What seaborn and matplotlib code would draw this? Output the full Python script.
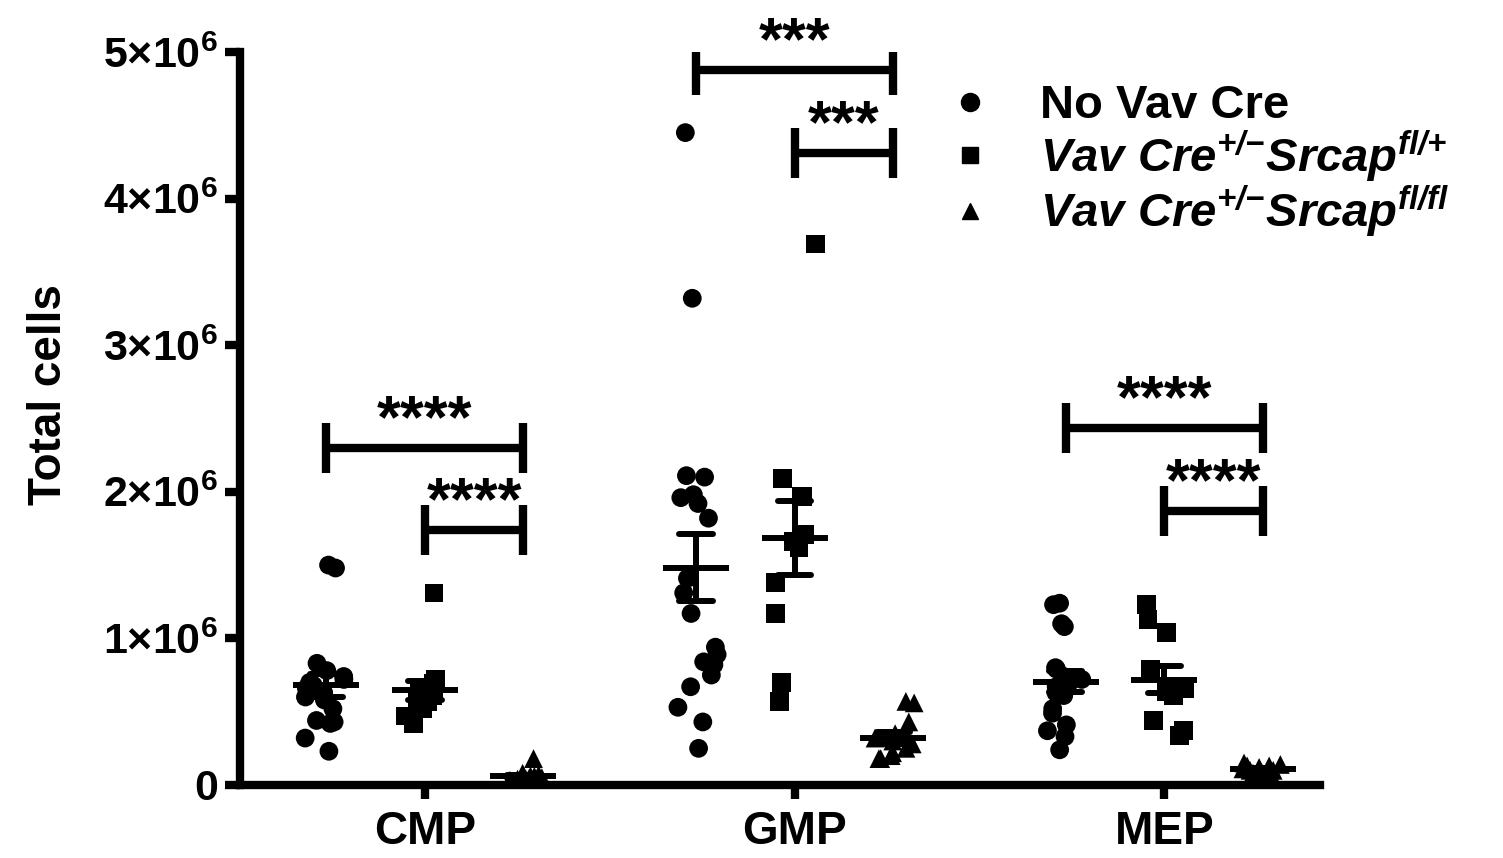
import numpy as np
import pandas as pd
import matplotlib
matplotlib.use("Agg")
import matplotlib.pyplot as plt
from matplotlib.lines import Line2D
import seaborn as sns

# ---------------- data ----------------
categories = ["CMP", "GMP", "MEP"]
groups = ["No Vav Cre",
          "Vav Cre$^{+/{-}}$Srcap$^{fl/{+}}$",
          "Vav Cre$^{+/{-}}$Srcap$^{fl/fl}$"]
group_markers = ["o", "s", "^"]

# values in units of 1e6 cells
cmp_novav = [1.50, 1.48, 0.83, 0.78, 0.74, 0.72, 0.70, 0.68, 0.66, 0.63,
             0.60, 0.58, 0.52, 0.44, 0.43, 0.42, 0.32, 0.23]
cmp_het = [1.31, 0.72, 0.69, 0.66, 0.63, 0.61, 0.59, 0.57, 0.55, 0.52, 0.47, 0.42]
cmp_hom = [0.18, 0.08, 0.07, 0.06, 0.06, 0.05, 0.05, 0.04, 0.04, 0.03, 0.03, 0.02]

gmp_novav = [4.45, 3.32, 2.11, 2.10, 1.98, 1.96, 1.92, 1.82, 1.41, 1.31,
             1.17, 0.94, 0.89, 0.84, 0.82, 0.75, 0.67, 0.53, 0.43, 0.25]
gmp_het = [3.69, 2.09, 1.97, 1.97, 1.71, 1.66, 1.62, 1.38, 1.17, 0.70, 0.57]
gmp_hom = [0.57, 0.56, 0.43, 0.35, 0.32, 0.30, 0.28, 0.25, 0.22, 0.20, 0.18, 0.18]

mep_novav = [1.24, 1.23, 1.10, 1.08, 0.80, 0.79, 0.74, 0.72, 0.70, 0.67,
             0.63, 0.61, 0.52, 0.49, 0.41, 0.37, 0.33, 0.24]
mep_het = [1.23, 1.13, 1.04, 0.79, 0.66, 0.66, 0.64, 0.61, 0.44, 0.37, 0.34]
mep_hom = [0.15, 0.14, 0.13, 0.13, 0.12, 0.11, 0.10, 0.10, 0.09, 0.08, 0.08, 0.07]

ytick_values = [0, 1e6, 2e6, 3e6, 4e6, 5e6]
ytick_labels = ["0", "1×10$^{6}$", "2×10$^{6}$", "3×10$^{6}$", "4×10$^{6}$", "5×10$^{6}$"]

# significance brackets (category, from-group, to-group, height, label)
sig_category = ["CMP", "CMP", "GMP", "GMP", "MEP", "MEP"]
sig_from = [0, 1, 0, 1, 0, 1]
sig_to = [2, 2, 2, 2, 2, 2]
sig_height = [2.30e6, 1.74e6, 4.88e6, 4.31e6, 2.435e6, 1.87e6]
sig_label = ["****", "****", "***", "***", "****", "****"]

# ---------------- long-form table ----------------
series = {
    ("CMP", 0): cmp_novav, ("CMP", 1): cmp_het, ("CMP", 2): cmp_hom,
    ("GMP", 0): gmp_novav, ("GMP", 1): gmp_het, ("GMP", 2): gmp_hom,
    ("MEP", 0): mep_novav, ("MEP", 1): mep_het, ("MEP", 2): mep_hom,
}
rows = []
for (cat, gi), vals in series.items():
    for v in vals:
        rows.append({"cell": cat, "group": groups[gi], "count": v * 1e6})
df = pd.DataFrame(rows)

# ---------------- style ----------------
sns.set_style("ticks")
plt.rcParams["font.family"] = ["Liberation Sans", "DejaVu Sans"]
plt.rcParams["font.weight"] = "bold"
plt.rcParams["mathtext.default"] = "regular"
for k in ["text.color", "axes.edgecolor", "axes.labelcolor", "xtick.color", "ytick.color"]:
    plt.rcParams[k] = "black"

fig = plt.figure(figsize=(15.03, 8.58), dpi=100)
ax = fig.add_axes([0.1597, 0.0851, 0.878 - 0.1597, 0.9394 - 0.0851])

palette = {g: "black" for g in groups}
np.random.seed(3)
for g, m in zip(groups, group_markers):
    sub = df[df["group"] == g]
    sns.stripplot(data=sub, x="cell", y="count", hue="group", order=categories,
                  hue_order=groups, dodge=True, jitter=0.18, palette=palette,
                  marker=m, size=13.5, linewidth=0, legend=False, ax=ax)

n_groups = len(groups)
sns.pointplot(data=df, x="cell", y="count", hue="group", order=categories,
              hue_order=groups, dodge=0.8 - 0.8 / n_groups, estimator="mean",
              errorbar="se", capsize=0.09, palette=palette, markers="_",
              linestyles="none", markersize=48, markeredgewidth=4.3,
              err_kws={"linewidth": 4.3}, legend=False, ax=ax)

# significance brackets
offsets = (np.arange(n_groups) - (n_groups - 1) / 2) * 0.8 / n_groups
tick_half = 0.17e6
for cat, a, b, h, lab in zip(sig_category, sig_from, sig_to, sig_height, sig_label):
    ci = categories.index(cat)
    x1, x2 = ci + offsets[a], ci + offsets[b]
    ax.hlines(h, x1, x2, color="black", linewidth=6, capstyle="butt")
    ax.vlines([x1, x2], h - tick_half, h + tick_half, color="black", linewidth=6,
              capstyle="butt")
    ax.annotate(lab, xy=((x1 + x2) / 2, h), xytext=(0, 19), textcoords="offset points",
                ha="center", va="center", fontsize=44, fontweight="bold")

# axes
ax.set_xlim(-0.5, 2.42)
ax.set_ylim(0, 5e6)
ax.set_yticks(ytick_values, ytick_labels)
sns.despine(ax=ax)
for s in ["left", "bottom"]:
    ax.spines[s].set_linewidth(6)
ax.tick_params(axis="y", length=11, width=6, labelsize=31, pad=5)
ax.tick_params(axis="x", length=10, width=6, labelsize=33, pad=8)
for t in ax.get_xticklabels() + ax.get_yticklabels():
    t.set_fontweight("bold")
ax.set_xlabel("")
ax.set_ylabel("Total cells", fontsize=33, fontweight="bold")
ax.yaxis.set_label_coords(-0.157, 0.532)

# legend
handles = [Line2D([], [], marker=m, color="black", linestyle="none", markersize=ms)
           for m, ms in zip(group_markers, [13, 12, 12])]
leg = ax.legend(handles, groups, loc="upper left", bbox_to_anchor=(0.6294, 0.902),
                bbox_transform=fig.transFigure, frameon=False,
                prop={"size": 34, "weight": "bold"}, handlelength=1.0,
                handletextpad=1.0, labelspacing=0.0, borderpad=0, borderaxespad=0)
for t in leg.get_texts()[1:]:
    t.set_fontstyle("italic")

fig.savefig("out.png", dpi=100)
